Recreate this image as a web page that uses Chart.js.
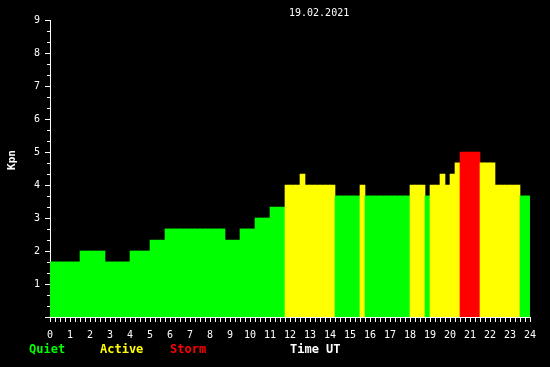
<!DOCTYPE html>
<html>
<head>
<meta charset="utf-8">
<script src="https://cdn.jsdelivr.net/npm/chart.js@4.4.1/dist/chart.umd.min.js"></script>
<style>
  html, body { margin: 0; padding: 0; background: #000; }
  #wrap { width: 550px; height: 367px; }
</style>
</head>
<body>
<div id="wrap"><canvas id="c" width="550" height="367"></canvas></div>
<script>
// ---- data ----
const chartDate = "19.02.2021";
const yAxisTitle = "Kpn";
const xAxisTitle = "Time UT";
const legendLabels = ["Quiet", "Active", "Storm"];
const hourTicks = [0,1,2,3,4,5,6,7,8,9,10,11,12,13,14,15,16,17,18,19,20,21,22,23,24];
const kpTicks = [1,2,3,4,5,6,7,8,9];
// slot start times (hours) at 15-minute resolution
const slotHours = [
  0,0.25,0.5,0.75,1,1.25,1.5,1.75,2,2.25,2.5,2.75,3,3.25,3.5,3.75,
  4,4.25,4.5,4.75,5,5.25,5.5,5.75,6,6.25,6.5,6.75,7,7.25,7.5,7.75,
  8,8.25,8.5,8.75,9,9.25,9.5,9.75,10,10.25,10.5,10.75,11,11.25,11.5,11.75,
  12,12.25,12.5,12.75,13,13.25,13.5,13.75,14,14.25,14.5,14.75,15,15.25,15.5,15.75,
  16,16.25,16.5,16.75,17,17.25,17.5,17.75,18,18.25,18.5,18.75,19,19.25,19.5,19.75,
  20,20.25,20.5,20.75,21,21.25,21.5,21.75,22,22.25,22.5,22.75,23,23.25,23.5,23.75
];
// Kp value of each 15-minute slot
const kpValues = [
  1.67,1.67,1.67,1.67,1.67,1.67, 2,2,2,2,2, 1.67,1.67,1.67,1.67,1.67,
  2,2,2,2, 2.33,2.33,2.33, 2.67,2.67,2.67,2.67,2.67,2.67,2.67,2.67,2.67,
  2.67,2.67,2.67, 2.33,2.33,2.33, 2.67,2.67,2.67, 3,3,3, 3.33,3.33,3.33, 4,
  4,4, 4.33, 4,4,4,4,4,4, 3.67,3.67,3.67,3.67,3.67, 4, 3.67,
  3.67,3.67,3.67,3.67,3.67,3.67,3.67,3.67, 4,4,4, 3.67, 4,4, 4.33, 4,
  4.33, 4.67, 5,5,5,5, 4.67,4.67,4.67, 4,4,4,4,4, 3.67,3.67
];
const levelColors = { quiet: "#00ff00", active: "#ffff00", storm: "#ff0000" };

// ---- build ----
const points = slotHours.map((h, i) => ({ x: h + 0.125, y: kpValues[i] }));
const barColors = kpValues.map(v => v >= 5 ? levelColors.storm : (v >= 4 ? levelColors.active : levelColors.quiet));

const MONO = "'DejaVu Sans Mono', 'Liberation Mono', monospace";

const decor = {
  id: 'decor',
  afterDraw(chart) {
    const ctx = chart.ctx;
    const xs = chart.scales.x, ys = chart.scales.y;
    const area = chart.chartArea;
    ctx.save();
    ctx.strokeStyle = '#fff';
    ctx.lineWidth = 1;
    // y ticks: major every 1, minor every 1/3
    for (let k = 0; k <= 27; k++) {
      const y = Math.round(ys.getPixelForValue(k / 3)) + 0.5;
      const len = (k % 3 === 0) ? 5 : 3;
      ctx.beginPath();
      ctx.moveTo(area.left - len, y);
      ctx.lineTo(area.left, y);
      ctx.stroke();
    }
    // x ticks every 15 minutes
    for (let k = 0; k <= 96; k++) {
      const x = Math.round(xs.getPixelForValue(k / 4)) + 0.5;
      ctx.beginPath();
      ctx.moveTo(x, area.bottom);
      ctx.lineTo(x, area.bottom + 5);
      ctx.stroke();
    }
    // title
    ctx.fillStyle = '#fff';
    ctx.font = "10px " + MONO;
    ctx.textAlign = 'left';
    ctx.textBaseline = 'alphabetic';
    ctx.fillText(chartDate, 289, 16);
    // legend
    ctx.font = "bold 12px " + MONO;
    ctx.fillStyle = levelColors.quiet;
    ctx.fillText(legendLabels[0], 29, 353);
    ctx.fillStyle = levelColors.active;
    ctx.fillText(legendLabels[1], 100, 353);
    ctx.fillStyle = levelColors.storm;
    ctx.fillText(legendLabels[2], 170, 353);
    ctx.fillStyle = '#fff';
    ctx.fillText(xAxisTitle, 290, 353);
    // y title
    ctx.translate(12, 160);
    ctx.rotate(-Math.PI / 2);
    ctx.textAlign = 'center';
    ctx.textBaseline = 'middle';
    ctx.font = "bold 11px " + MONO;
    ctx.fillText(yAxisTitle, 0, 0);
    ctx.restore();
  }
};

new Chart(document.getElementById('c'), {
  type: 'bar',
  data: {
    datasets: [{
      data: points,
      backgroundColor: barColors,
      borderWidth: 0,
      barPercentage: 1,
      categoryPercentage: 1
    }]
  },
  options: {
    responsive: false,
    devicePixelRatio: 1,
    animation: false,
    layout: { padding: { top: 20, right: 20, left: 0, bottom: 0 } },
    plugins: { legend: { display: false }, title: { display: false }, tooltip: { enabled: false } },
    scales: {
      x: {
        type: 'linear',
        min: 0, max: 24,
        offset: false,
        afterFit(s) { s.height = 50; },
        afterBuildTicks(s) { s.ticks = hourTicks.map(v => ({ value: v })); },
        grid: { display: false, drawTicks: false },
        border: { display: true, color: '#fff', width: 1 },
        ticks: { color: '#fff', font: { family: MONO, size: 10 }, padding: 12, maxRotation: 0, autoSkip: false }
      },
      y: {
        min: 0, max: 9,
        afterFit(s) { s.width = 50; },
        afterBuildTicks(s) { s.ticks = kpTicks.map(v => ({ value: v })); },
        grid: { display: false, drawTicks: false },
        border: { display: true, color: '#fff', width: 1 },
        ticks: { color: '#fff', font: { family: MONO, size: 10 }, padding: 10 }
      }
    }
  },
  plugins: [decor]
});
</script>
</body>
</html>
